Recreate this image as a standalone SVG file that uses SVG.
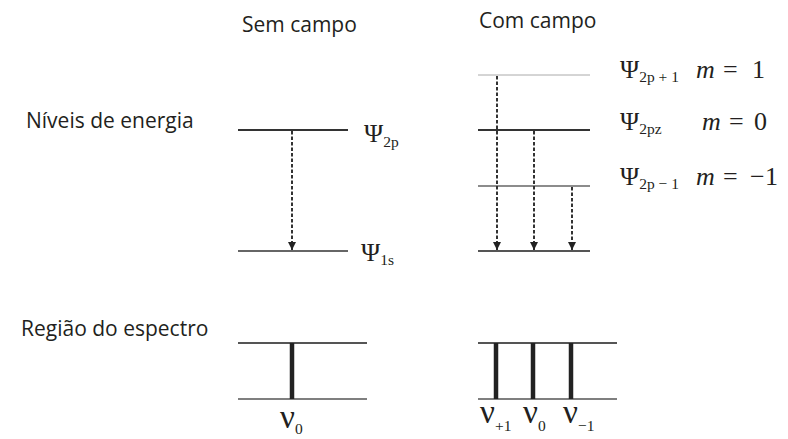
<svg xmlns="http://www.w3.org/2000/svg" width="788" height="439" viewBox="0 0 788 439">
<style>
.lbl{font-family:"Open Sans","Noto Sans",sans-serif;font-size:21px;fill:#231f20}
.sym{font-family:"Liberation Serif","Times New Roman",serif;fill:#231f20}
.psi{font-size:26px}
.sub{font-size:15.5px}
.mi{font-size:26px;font-style:italic}
.mn{font-size:26px}
.nu{font-size:33px}
.dash{stroke:#333;stroke-width:2;stroke-dasharray:3.5 2;fill:none}
.lev{fill:none}
.spec{stroke:#222;stroke-width:4.5}
</style>
<defs>
<marker id="ah" viewBox="0 0 8 8" refX="8" refY="4" markerWidth="8" markerHeight="8" markerUnits="userSpaceOnUse" orient="auto">
<path d="M0,0 L8,4 L0,8 Z" fill="#222"/>
</marker>
</defs>
<rect width="788" height="439" fill="#fff"/>

<g id="titles">
<text class="lbl" x="242" y="32">Sem campo</text>
<text class="lbl" x="479" y="28">Com campo</text>
<text class="lbl" x="26" y="128">Níveis de energia</text>
<text class="lbl" x="21" y="336">Região do espectro</text>
</g>

<g id="levels-left">
<line class="lev" x1="238" y1="130" x2="348" y2="130" style="stroke:#333;stroke-width:2.2"/>
<line class="lev" x1="238" y1="251" x2="348" y2="251" style="stroke:#666;stroke-width:2"/>
<text class="sym psi" x="364" y="142">Ψ<tspan class="sub" dy="5">2p</tspan></text>
<text class="sym psi" x="361" y="261">Ψ<tspan class="sub" dy="4">1s</tspan></text>
</g>

<g id="levels-right">
<line class="lev" x1="478" y1="75" x2="590" y2="75" style="stroke:#aaa;stroke-width:1"/>
<line class="lev" x1="478" y1="130" x2="590" y2="130" style="stroke:#333;stroke-width:2.2"/>
<line class="lev" x1="478" y1="186" x2="590" y2="186" style="stroke:#666;stroke-width:1.6"/>
<line class="lev" x1="478" y1="251" x2="590" y2="251" style="stroke:#555;stroke-width:2"/>
<text class="sym psi" x="620" y="78">Ψ<tspan class="sub" dy="4">2p + 1</tspan></text>
<text class="sym psi" x="620" y="130">Ψ<tspan class="sub" dy="4">2pz</tspan></text>
<text class="sym psi" x="620" y="185">Ψ<tspan class="sub" dy="4">2p − 1</tspan></text>
<text class="sym" y="78"><tspan class="mi" x="696">m</tspan><tspan class="mn" x="723">=</tspan><tspan class="mn" x="752">1</tspan></text>
<text class="sym" y="130"><tspan class="mi" x="702">m</tspan><tspan class="mn" x="729">=</tspan><tspan class="mn" x="754">0</tspan></text>
<text class="sym" y="185"><tspan class="mi" x="696">m</tspan><tspan class="mn" x="723">=</tspan><tspan class="mn" x="750">−</tspan><tspan class="mn" x="765">1</tspan></text>
</g>

<g id="connectors">
<line class="dash" x1="292" y1="131" x2="292" y2="250" marker-end="url(#ah)"/>
<line class="dash" x1="497" y1="76" x2="497" y2="250" marker-end="url(#ah)"/>
<line class="dash" x1="534" y1="131" x2="534" y2="250" marker-end="url(#ah)"/>
<line class="dash" x1="572" y1="187" x2="572" y2="250" marker-end="url(#ah)"/>
</g>

<g id="spectrum-left">
<line class="lev" x1="238" y1="343" x2="367" y2="343" style="stroke:#555;stroke-width:2"/>
<line class="lev" x1="238" y1="399" x2="367" y2="399" style="stroke:#555;stroke-width:1.6"/>
<line class="spec" x1="292" y1="343" x2="292" y2="399"/>
<text class="sym nu" x="280" y="428">ν<tspan class="sub" dy="6">0</tspan></text>
</g>

<g id="spectrum-right">
<line class="lev" x1="478" y1="343" x2="617" y2="343" style="stroke:#555;stroke-width:2"/>
<line class="lev" x1="478" y1="399" x2="617" y2="399" style="stroke:#555;stroke-width:1.6"/>
<line class="spec" x1="496" y1="343" x2="496" y2="399"/>
<line class="spec" x1="533" y1="343" x2="533" y2="399"/>
<line class="spec" x1="571" y1="343" x2="571" y2="399"/>
<text class="sym nu" x="480" y="423">ν<tspan class="sub" dy="8">+1</tspan></text>
<text class="sym nu" x="523" y="423">ν<tspan class="sub" dy="8">0</tspan></text>
<text class="sym nu" x="563" y="423">ν<tspan class="sub" dy="8">−1</tspan></text>
</g>
</svg>
